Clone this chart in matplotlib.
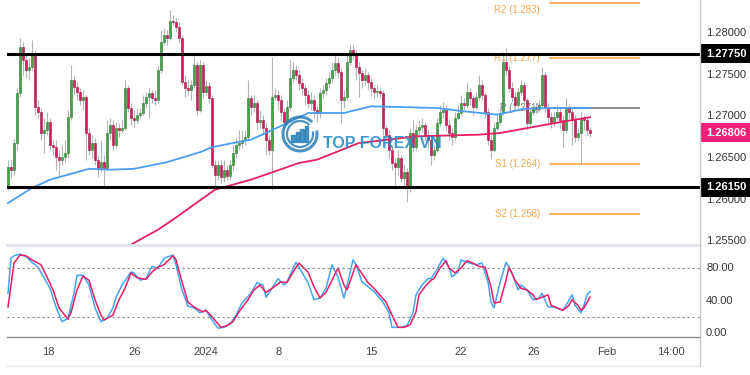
import matplotlib

matplotlib.use("Agg")
matplotlib.rc("font", family=["Liberation Sans", "DejaVu Sans"])

import matplotlib.patches as mpatches
import matplotlib.pyplot as plt
import matplotlib.lines as mlines
import matplotlib.transforms as mtransforms
import numpy as np

# GBPUSD 4H candles (open = previous close)
first_open = 1.2615
closes = [
    1.2639, 1.2636, 1.2668, 1.2728, 1.2783, 1.2768, 1.2756, 1.2759, 1.2776, 1.2711,
    1.2705, 1.2680, 1.2684, 1.2693, 1.2666, 1.2663, 1.2651, 1.2648, 1.2651, 1.2656,
    1.2699, 1.2744, 1.2735, 1.2729, 1.2720, 1.2723, 1.2680, 1.2660, 1.2668, 1.2648,
    1.2638, 1.2645, 1.2638, 1.2680, 1.2690, 1.2666, 1.2686, 1.2684, 1.2686, 1.2734,
    1.2710, 1.2698, 1.2696, 1.2702, 1.2704, 1.2716, 1.2723, 1.2728, 1.2722, 1.2720,
    1.2756, 1.2789, 1.2798, 1.2794, 1.2814, 1.2813, 1.2807, 1.2794, 1.2741, 1.2734,
    1.2732, 1.2738, 1.2762, 1.2708, 1.2762, 1.2729, 1.2736, 1.2722, 1.2642, 1.2630,
    1.2642, 1.2627, 1.2636, 1.2628, 1.2642, 1.2656, 1.2666, 1.2668, 1.2672, 1.2675,
    1.2722, 1.2711, 1.2716, 1.2693, 1.2696, 1.2686, 1.2672, 1.2660, 1.2723, 1.2726,
    1.2720, 1.2705, 1.2693, 1.2711, 1.2746, 1.2756, 1.2750, 1.2740, 1.2734, 1.2726,
    1.2716, 1.2720, 1.2708, 1.2704, 1.2728, 1.2732, 1.2740, 1.2746, 1.2756, 1.2764,
    1.2753, 1.2720, 1.2723, 1.2765, 1.2780, 1.2774, 1.2759, 1.2752, 1.2744, 1.2750,
    1.2741, 1.2734, 1.2729, 1.2730, 1.2728, 1.2686, 1.2678, 1.2660, 1.2644, 1.2639,
    1.2650, 1.2626, 1.2633, 1.2615, 1.2680, 1.2663, 1.2684, 1.2687, 1.2690, 1.2678,
    1.2672, 1.2654, 1.2660, 1.2692, 1.2705, 1.2708, 1.2690, 1.2680, 1.2675, 1.2698,
    1.2704, 1.2716, 1.2714, 1.2729, 1.2722, 1.2711, 1.2723, 1.2738, 1.2726, 1.2705,
    1.2672, 1.2660, 1.2686, 1.2693, 1.2704, 1.2765, 1.2756, 1.2734, 1.2723, 1.2714,
    1.2729, 1.2738, 1.2720, 1.2692, 1.2705, 1.2711, 1.2709, 1.2714, 1.2750, 1.2711,
    1.2699, 1.2693, 1.2699, 1.2705, 1.2696, 1.2684, 1.2710, 1.2705, 1.2696, 1.2675,
    1.2680, 1.2698, 1.2696, 1.2684, 1.26806,
]
highs = [
    1.2648, 1.2648, 1.2674, 1.2734, 1.2794, 1.2789, 1.2774, 1.2770, 1.2792, 1.2780,
    1.2720, 1.2710, 1.2698, 1.2705, 1.2698, 1.2672, 1.2672, 1.2660, 1.2666, 1.2672,
    1.2708, 1.2762, 1.2750, 1.2741, 1.2734, 1.2732, 1.2726, 1.2686, 1.2678, 1.2674,
    1.2654, 1.2672, 1.2654, 1.2696, 1.2698, 1.2696, 1.2693, 1.2692, 1.2696, 1.2744,
    1.2738, 1.2716, 1.2708, 1.2710, 1.2710, 1.2726, 1.2729, 1.2734, 1.2732, 1.2732,
    1.2762, 1.2804, 1.2806, 1.2804, 1.2828, 1.2822, 1.2818, 1.2813, 1.2798, 1.2750,
    1.2744, 1.2744, 1.2774, 1.2765, 1.2768, 1.2765, 1.2744, 1.2741, 1.2726, 1.2648,
    1.2648, 1.2648, 1.2648, 1.2642, 1.2648, 1.2666, 1.2674, 1.2684, 1.2684, 1.2684,
    1.2744, 1.2726, 1.2726, 1.2720, 1.2708, 1.2702, 1.2693, 1.2678, 1.2771, 1.2734,
    1.2732, 1.2726, 1.2710, 1.2720, 1.2768, 1.2765, 1.2762, 1.2756, 1.2746, 1.2738,
    1.2732, 1.2729, 1.2726, 1.2714, 1.2734, 1.2738, 1.2746, 1.2753, 1.2765, 1.2774,
    1.2770, 1.2758, 1.2732, 1.2774, 1.2786, 1.2786, 1.2780, 1.2765, 1.2756, 1.2758,
    1.2753, 1.2746, 1.2738, 1.2738, 1.2735, 1.2732, 1.2690, 1.2684, 1.2666, 1.2650,
    1.2660, 1.2654, 1.2642, 1.2638, 1.2686, 1.2696, 1.2690, 1.2696, 1.2698, 1.2693,
    1.2684, 1.2678, 1.2666, 1.2698, 1.2714, 1.2717, 1.2714, 1.2696, 1.2686, 1.2705,
    1.2714, 1.2726, 1.2722, 1.2741, 1.2734, 1.2726, 1.2729, 1.2750, 1.2744, 1.2729,
    1.2710, 1.2678, 1.2693, 1.2702, 1.2710, 1.2777, 1.2782, 1.2762, 1.2741, 1.2729,
    1.2734, 1.2744, 1.2741, 1.2722, 1.2710, 1.2716, 1.2716, 1.2720, 1.2759, 1.2753,
    1.2716, 1.2705, 1.2705, 1.2714, 1.2710, 1.2702, 1.2722, 1.2715, 1.2710, 1.2702,
    1.2686, 1.2705, 1.2702, 1.2699, 1.2687,
]
lows = [
    1.2612, 1.2626, 1.2630, 1.2660, 1.2723, 1.2750, 1.2746, 1.2744, 1.2756, 1.2702,
    1.2698, 1.2672, 1.2656, 1.2678, 1.2660, 1.2654, 1.2636, 1.2627, 1.2642, 1.2645,
    1.2650, 1.2696, 1.2726, 1.2720, 1.2714, 1.2708, 1.2648, 1.2654, 1.2650, 1.2642,
    1.2627, 1.2633, 1.2614, 1.2636, 1.2672, 1.2660, 1.2662, 1.2675, 1.2680, 1.2684,
    1.2705, 1.2690, 1.2687, 1.2692, 1.2698, 1.2702, 1.2710, 1.2698, 1.2716, 1.2714,
    1.2716, 1.2752, 1.2786, 1.2786, 1.2792, 1.2810, 1.2801, 1.2789, 1.2738, 1.2723,
    1.2726, 1.2720, 1.2734, 1.2702, 1.2705, 1.2722, 1.2726, 1.2716, 1.2638, 1.2614,
    1.2624, 1.2620, 1.2621, 1.2624, 1.2624, 1.2636, 1.2650, 1.2660, 1.2662, 1.2666,
    1.2672, 1.2702, 1.2705, 1.2684, 1.2686, 1.2678, 1.2654, 1.2654, 1.2612, 1.2720,
    1.2708, 1.2696, 1.2686, 1.2690, 1.2708, 1.2741, 1.2744, 1.2732, 1.2726, 1.2714,
    1.2710, 1.2708, 1.2698, 1.2693, 1.2698, 1.2722, 1.2726, 1.2734, 1.2741, 1.2750,
    1.2746, 1.2692, 1.2710, 1.2720, 1.2762, 1.2768, 1.2744, 1.2723, 1.2734, 1.2738,
    1.2732, 1.2726, 1.2722, 1.2723, 1.2722, 1.2678, 1.2672, 1.2650, 1.2636, 1.2618,
    1.2630, 1.2621, 1.2618, 1.2597, 1.2609, 1.2657, 1.2660, 1.2678, 1.2681, 1.2672,
    1.2662, 1.2642, 1.2648, 1.2657, 1.2688, 1.2698, 1.2684, 1.2672, 1.2666, 1.2672,
    1.2696, 1.2702, 1.2708, 1.2710, 1.2714, 1.2702, 1.2708, 1.2720, 1.2720, 1.2698,
    1.2666, 1.2650, 1.2657, 1.2684, 1.2690, 1.2702, 1.2750, 1.2729, 1.2717, 1.2708,
    1.2710, 1.2726, 1.2714, 1.2684, 1.2688, 1.2702, 1.2704, 1.2705, 1.2710, 1.2705,
    1.2690, 1.2686, 1.2688, 1.2696, 1.2686, 1.2663, 1.2680, 1.2698, 1.2666, 1.2669,
    1.2672, 1.2642, 1.2684, 1.2678, 1.2675,
]

# moving averages (candle index, price)
blue_ma_idx = [0, 8, 14, 27, 34, 42, 53, 64, 68, 75, 81, 92, 100, 112, 121, 143, 152, 163, 167, 172, 180, 194]
blue_ma = [1.2596, 1.2614, 1.2624, 1.2637, 1.2636, 1.2637, 1.2645, 1.2657, 1.2663, 1.2668, 1.2672,
           1.2690, 1.2704, 1.2704, 1.2712, 1.2710, 1.2706, 1.2702, 1.2705, 1.2709, 1.2710, 1.2710]
pink_ma_idx = [40, 50, 55, 69, 81, 97, 103, 117, 136, 157, 164, 184, 194]
pink_ma = [1.2544, 1.2564, 1.2576, 1.2612, 1.2624, 1.2644, 1.2648, 1.2668, 1.2676, 1.2678, 1.2680, 1.2693, 1.2699]

# stochastic %K / %D (candle index, value)
k_idx = [0, 1, 2, 4, 6, 8, 10, 12, 14, 16, 18, 20, 22, 23, 25, 27, 29, 31, 33, 35, 36, 38, 41, 42, 44,
         46, 48, 50, 52, 55, 56, 58, 60, 62, 64, 66, 68, 70, 72, 74, 76, 78, 81, 83, 85, 86, 88, 90, 92,
         93, 96, 97, 100, 102, 104, 106, 108, 110, 112, 115, 116, 118, 120, 122, 125, 127, 128, 131, 133,
         135, 136, 138, 140, 141, 143, 145, 147, 148, 150, 151, 153, 156, 158, 160, 161, 162, 164, 166,
         168, 170, 171, 173, 175, 177, 178, 180, 182, 185, 186, 188, 189, 191, 192, 193, 194]
k_val = [49, 92, 95, 97, 94, 87, 81, 68, 55, 32, 14, 18, 49, 71, 71, 59, 31, 14, 18, 31, 44, 59, 75, 74, 65,
         67, 82, 80, 92, 96, 84, 53, 33, 31, 25, 28, 16, 6, 7, 11, 22, 37, 49, 62, 59, 44, 55, 67, 59,
         63, 87, 81, 62, 41, 43, 55, 84, 69, 43, 90, 84, 63, 57, 51, 38, 25, 7, 7, 9,
         25, 47, 59, 67, 67, 78, 92, 81, 69, 75, 90, 87, 84, 86, 63, 38, 31, 62, 87,
         74, 53, 59, 53, 41, 43, 49, 32, 32, 28, 34, 47, 34, 25, 34, 47, 51]
d_idx = [0, 2, 4, 6, 8, 11, 13, 15, 17, 20, 21, 23, 25, 27, 29, 31, 32, 35, 37, 39, 41, 43, 46, 48, 50,
         52, 55, 56, 58, 60, 62, 65, 66, 68, 71, 73, 75, 77, 80, 82, 84, 86, 88, 91, 93, 95, 97, 100,
         102, 104, 106, 110, 112, 113, 116, 120, 122, 126, 128, 130, 132, 134, 136, 137, 139, 141, 142,
         144, 146, 147, 149, 151, 153, 155, 157, 159, 161, 162, 164, 166, 167, 169, 171, 173, 175, 176,
         178, 180, 181, 183, 185, 187, 188, 190, 191, 192, 194]
d_val = [32, 86, 96, 95, 90, 84, 69, 53, 31, 17, 25, 53, 70, 65, 41, 22, 16, 22, 41, 55, 74, 68, 66, 75, 81,
         84, 95, 90, 63, 38, 32, 26, 28, 20, 7, 9, 14, 26, 41, 53, 59, 50, 55, 63, 62, 75, 86, 75,
         57, 43, 50, 80, 59, 53, 84, 62, 55, 38, 22, 7, 7, 10, 26, 47, 57, 65, 67,
         80, 89, 80, 74, 80, 89, 86, 82, 81, 57, 37, 38, 65, 81, 65, 55, 53, 47, 41,
         44, 47, 34, 31, 28, 34, 41, 34, 28, 31, 44]

resistance = 1.2775
support = 1.2615
last_price = 1.26806

pivot_names = ["R2 (1.283)", "R1 (1.277)", "P (1.271)", "S1 (1.264)", "S2 (1.258)"]
pivot_levels = [1.2836, 1.2770, 1.2710, 1.2643, 1.2583]

price_ticks = [1.280, 1.275, 1.270, 1.265, 1.260, 1.255]
stoch_ticks = [80, 40, 0]
stoch_bands = [80, 20]

date_pos = [13.3, 42.3, 66, 90.3, 121, 151, 175.3, 199.7, 221]
date_labels = ["18", "26", "2024", "8", "15", "22", "26", "Feb", "14:00"]

# colours
bull, bull_edge = "#43a047", "#2e7d32"
bear, bear_edge = "#d81b60", "#a0144a"
blue, pink = "#4a9ff5", "#e91e63"
pivot_color = "#f9a846"
label_color = "#333333"

W, H = 750, 375
fig = plt.figure(figsize=(W / 100, H / 100), dpi=100)
left, width = 7 / W, 693 / W
ax = fig.add_axes([left, 1 - 244 / H, width, 244 / H])
axs = fig.add_axes([left, 1 - 337 / H, width, 92 / H])

x_lim = (-0.33, 230.67)
y_top = 1.28396

# --- candles ---
c = np.array(closes)
opens = np.r_[first_open, c[:-1]]
x = np.arange(len(c))
up = c >= opens
body_lo = np.minimum(opens, c)
body_h = np.maximum(np.abs(c - opens), 0.00005)

ax.vlines(x, lows, highs, color="#b5b5b5", linewidth=0.8, zorder=2)
ax.bar(x[up], body_h[up], bottom=body_lo[up], width=0.72, color=bull,
       edgecolor=bull_edge, linewidth=0.4, zorder=3)
ax.bar(x[~up], body_h[~up], bottom=body_lo[~up], width=0.72, color=bear,
       edgecolor=bear_edge, linewidth=0.4, zorder=3)

ax.plot(blue_ma_idx, blue_ma, color=blue, linewidth=1.3, zorder=4)
ax.plot(pink_ma_idx, pink_ma, color=pink, linewidth=1.3, zorder=4)

# support / resistance
for level in (resistance, support):
    ax.axhline(level, color="black", linewidth=2.2, zorder=5)

# pivot points (label kept inside the panel at the top edge)
for name, level in zip(pivot_names, pivot_levels):
    col = "#777777" if name.startswith("P ") else pivot_color
    ax.hlines(level, 180.3, 210.7, color=col, linewidth=1.2, zorder=1)
    ax.text(177.3, min(level, y_top - 0.0006), name, ha="right", va="top" if level > y_top - 0.0006 else "center",
            fontsize=7, color=col, zorder=1)

# watermark
ax.text(105, 1.2668, "TOP FOREX VN", fontsize=11.5, fontweight="bold",
        color="#1f86c6", alpha=0.85, ha="left", va="center", zorder=6)
cx, cy = (300 - 7) / 693, 1 - 134 / 244
for r, lw in ((17, 2.2), (13, 1.6)):
    ax.add_patch(mpatches.Arc((cx, cy), 2 * r / 693, 2 * r / 244, theta1=70, theta2=390,
                              transform=ax.transAxes, color="#1f78b4", alpha=0.8,
                              linewidth=lw, zorder=6))
for i, bh in enumerate((7, 10, 13, 16)):
    ax.add_patch(mpatches.Rectangle((cx + (-9 + 4.5 * i) / 693, cy - 8 / 244), 3.5 / 693, bh / 244,
                                    transform=ax.transAxes, color="#1f78b4", alpha=0.8, zorder=6))

ax.set_xlim(*x_lim)
ax.set_ylim(1.25468, y_top)
ax.set_xticks([])
ax.set_yticks([])
for s in ax.spines.values():
    s.set_visible(False)

# right price scale
trans = mtransforms.blended_transform_factory(ax.transAxes, ax.transData)
for p in price_ticks:
    ax.text(1.0087, p, f"{p:.5f}", transform=trans, fontsize=8, color=label_color,
            va="center", ha="left", clip_on=False)
for p, fc in ((resistance, "black"), (last_price, "#f0207a"), (support, "black")):
    ax.add_patch(mpatches.Rectangle((1.0, p - 0.00112), 50 / 693, 0.00224, transform=trans,
                                    facecolor=fc, edgecolor="none", clip_on=False, zorder=10))
    ax.text(1.0087, p, f"{p:.5f}", transform=trans, fontsize=8, color="white",
            fontweight="bold", va="center", ha="left", clip_on=False, zorder=11)

# --- stochastic ---
axs.plot(k_idx, k_val, color="#42a5f5", linewidth=1.1)
axs.plot(d_idx, d_val, color=pink, linewidth=1.1)
for b in stoch_bands:
    axs.axhline(b, color="#888888", linewidth=0.8, linestyle=(0, (2, 2.5)))
axs.set_xlim(*x_lim)
axs.set_ylim(-4.9, 108.3)
axs.set_yticks([])
axs.set_xticks(date_pos, date_labels)
axs.tick_params(axis="x", length=0, labelsize=8, colors="#444444", pad=7)
for side in ("top", "left", "right"):
    axs.spines[side].set_visible(False)
axs.spines["bottom"].set_color("#8a8a8a")
axs.spines["bottom"].set_linewidth(1.0)
strans = mtransforms.blended_transform_factory(axs.transAxes, axs.transData)
for v in stoch_ticks:
    axs.text(1.0087, v, f"{v:.2f}", transform=strans, fontsize=8, color=label_color,
             va="center", ha="left", clip_on=False)

# panel separators and scale border
fig.add_artist(mlines.Line2D([left, 700 / W], [1 - 244.5 / H] * 2, color="#e0e3eb", linewidth=2))
fig.add_artist(mlines.Line2D([left, 700 / W], [1 - 366 / H] * 2, color="#e6e6e6", linewidth=1))
fig.add_artist(mlines.Line2D([700 / W] * 2, [1 - 366 / H, 1], color="#c8c8c8", linewidth=1))

fig.savefig("out.png", dpi=100)
